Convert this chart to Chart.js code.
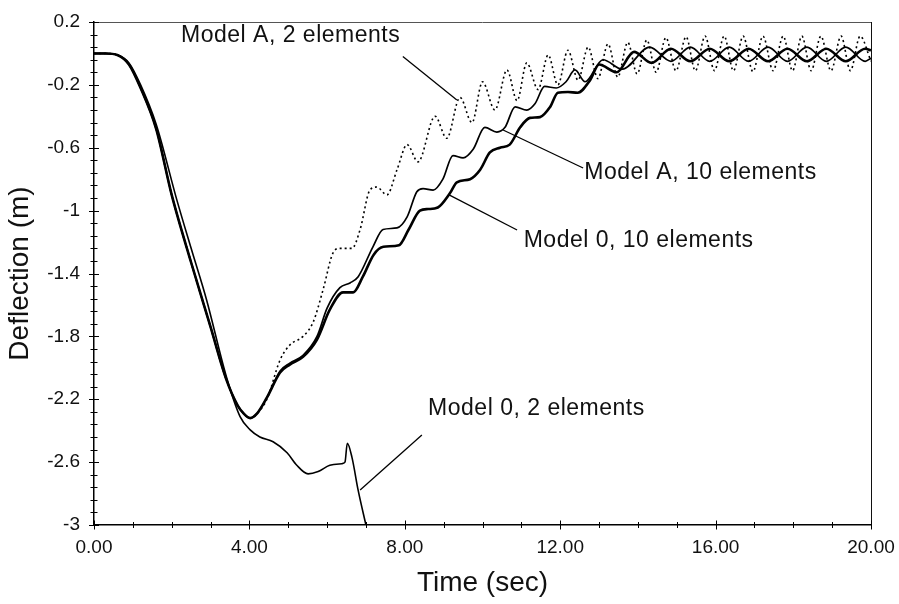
<!DOCTYPE html>
<html>
<head>
<meta charset="utf-8">
<script src="https://cdn.jsdelivr.net/npm/chart.js@4.4.1/dist/chart.umd.min.js"></script>
<style>
  body { margin: 0; background: #fff; }
  #wrap { width: 899px; height: 604px; }
</style>
</head>
<body>
<div id="wrap"><canvas id="deflection" width="899" height="604"></canvas></div>
<script>
// axis ticks
const xMajorTicks = [0, 4, 8, 12, 16, 20];
const xTickLabels = ['0.00', '4.00', '8.00', '12.00', '16.00', '20.00'];
const yMajorTicks = [0.2, -0.2, -0.6, -1, -1.4, -1.8, -2.2, -2.6, -3];
const yTickLabels = ['0.2', '-0.2', '-0.6', '-1', '-1.4', '-1.8', '-2.2', '-2.6', '-3'];

// Model A, 2 elements (dotted)
const modelA2Time = [0, 0.3, 0.6, 0.9, 1.2, 1.6, 2.0, 2.5, 3.0, 3.4, 3.7, 3.85, 4.02, 4.2, 4.45,
  4.79, 5.04, 5.38, 5.64, 5.9, 6.15, 6.33, 6.64, 6.85, 7.1, 7.28, 7.54, 7.8, 8.06, 8.34,
  8.78, 9.08, 9.42, 9.73, 10.0, 10.32, 10.63, 10.89, 11.14, 11.43, 11.69, 11.94, 12.2, 12.46,
  12.72, 12.97, 13.23, 13.48, 13.74, 13.98, 14.23, 14.47, 14.72, 14.98, 15.24, 15.48, 15.73,
  15.97, 16.22, 16.46, 16.71, 16.96, 17.22, 17.48, 17.74, 17.98, 18.22, 18.46, 18.71, 18.97,
  19.23, 19.47, 19.72, 20.0];
const modelA2Defl = [0, 0, -0.01, -0.07, -0.22, -0.48, -0.9, -1.33, -1.74, -2.07, -2.24, -2.29, -2.32, -2.29, -2.2,
  -1.95, -1.855, -1.8, -1.71, -1.5, -1.27, -1.24, -1.24, -1.12, -0.87, -0.85, -0.9, -0.74, -0.58, -0.69,
  -0.40, -0.54, -0.28, -0.44, -0.18, -0.36, -0.105, -0.30, -0.06, -0.23, -0.01, -0.20, 0.02, -0.17,
  0.04, -0.16, 0.06, -0.15, 0.07, -0.13, 0.085, -0.12, 0.1, -0.11, 0.105, -0.11, 0.11,
  -0.11, 0.11, -0.11, 0.11, -0.115, 0.11, -0.11, 0.11, -0.11, 0.11, -0.11, 0.11, -0.11,
  0.11, -0.11, 0.11, -0.05];

// Model A, 10 elements (thin solid)
const modelA10Time = [0, 0.3, 0.6, 0.9, 1.2, 1.6, 2.0, 2.5, 3.0, 3.4, 3.7, 3.85, 4.02, 4.2, 4.45,
  4.79, 5.04, 5.38, 5.74, 6.0, 6.33, 6.59, 6.8, 7.18, 7.44, 7.8, 8.06, 8.31, 8.47, 8.73,
  8.98, 9.24, 9.5, 9.76, 10.06, 10.37, 10.58, 10.84, 11.14, 11.35, 11.6, 11.9, 12.15, 12.38,
  12.64, 13.1, 13.6, 14.3, 14.85, 15.35, 15.85, 16.35, 16.85, 17.35, 17.85, 18.35, 18.85,
  19.35, 19.85, 20.0];
const modelA10Defl = [0, 0, -0.01, -0.07, -0.22, -0.48, -0.9, -1.33, -1.74, -2.07, -2.24, -2.29, -2.32, -2.29, -2.19,
  -2.02, -1.97, -1.92, -1.80, -1.62, -1.49, -1.46, -1.42, -1.23, -1.12, -1.11, -1.04, -0.88, -0.86, -0.87,
  -0.80, -0.65, -0.665, -0.61, -0.47, -0.50, -0.47, -0.34, -0.36, -0.32, -0.21, -0.22, -0.18, -0.105,
  -0.18, -0.04, -0.10, 0.04, -0.05, 0.04, -0.05, 0.04, -0.05, 0.04, -0.05, 0.04, -0.05,
  0.04, -0.05, -0.03];

// Model 0, 10 elements (thick solid)
const model010Time = [0, 0.3, 0.6, 0.9, 1.2, 1.6, 2.0, 2.5, 3.0, 3.4, 3.7, 3.85, 4.02, 4.2, 4.45,
  4.79, 5.04, 5.38, 5.74, 6.07, 6.41, 6.67, 6.92, 7.2, 7.45, 7.85, 8.1, 8.39, 8.6, 8.85,
  9.16, 9.34, 9.68, 9.94, 10.19, 10.45, 10.7, 10.97, 11.22, 11.48, 11.74, 11.94, 12.2, 12.45,
  12.77, 13.0, 13.45, 13.9, 14.35, 14.85, 15.35, 15.85, 16.35, 16.85, 17.35, 17.85, 18.35,
  18.85, 19.35, 19.85, 20.0];
const model010Defl = [0, 0, -0.01, -0.07, -0.22, -0.48, -0.9, -1.33, -1.74, -2.07, -2.24, -2.29, -2.32, -2.29, -2.19,
  -2.03, -1.98, -1.93, -1.82, -1.63, -1.52, -1.52, -1.42, -1.28, -1.23, -1.22, -1.12, -1.0, -0.99, -0.98,
  -0.89, -0.82, -0.80, -0.74, -0.63, -0.60, -0.58, -0.47, -0.41, -0.405, -0.34, -0.25, -0.245, -0.25,
  -0.17, -0.07, -0.12, 0.01, -0.06, 0.03, -0.05, 0.03, -0.05, 0.03, -0.05, 0.03, -0.05,
  0.03, -0.05, 0.03, 0.02];

// Model 0, 2 elements (thin solid, diverges)
const model02Time = [0, 0.3, 0.6, 0.9, 1.2, 1.6, 2.13, 2.5, 2.9, 3.4, 3.76, 4.02, 4.27, 4.61,
  4.97, 5.22, 5.51, 5.77, 6.07, 6.38, 6.46, 6.52, 6.64, 6.8, 7.0];
const model02Defl = [0, 0, -0.01, -0.06, -0.2, -0.45, -0.93, -1.24, -1.57, -2.05, -2.31, -2.395, -2.44, -2.47,
  -2.54, -2.62, -2.675, -2.66, -2.62, -2.61, -2.6, -2.48, -2.57, -2.78, -3.0];

// callout labels: text position and pointer line, in data units
const callouts = [
  { text: 'Model A, 2 elements', at: [2.24, 0.11], from: [7.95, -0.02], to: [9.34, -0.296] },
  { text: 'Model A, 10 elements', at: [12.62, -0.76], from: [12.59, -0.729], to: [10.53, -0.487] },
  { text: 'Model 0, 10 elements', at: [11.06, -1.19], from: [10.89, -1.123], to: [9.14, -0.90] },
  { text: 'Model 0, 2 elements', at: [8.6, -2.26], from: [8.44, -2.427], to: [6.85, -2.777] },
];

const toPoints = (xs, ys) => xs.map((x, i) => ({ x: x, y: ys[i] }));

const fontFamily = '"Liberation Sans", Arial, sans-serif';

const axisDecor = {
  id: 'axisDecor',
  afterDatasetsDraw(chart) {
    const { ctx, chartArea, scales } = chart;
    const xs = scales.x;
    const ys = scales.y;
    ctx.save();

    // top and right frame
    ctx.strokeStyle = '#555';
    ctx.lineWidth = 1;
    ctx.beginPath();
    ctx.moveTo(chartArea.left, chartArea.top + 0.5);
    ctx.lineTo(chartArea.right, chartArea.top + 0.5);
    ctx.stroke();
    ctx.strokeStyle = '#111';
    ctx.beginPath();
    ctx.moveTo(chartArea.right + 0.5, chartArea.top);
    ctx.lineTo(chartArea.right + 0.5, chartArea.bottom);
    ctx.stroke();

    // crossing tick marks
    ctx.strokeStyle = '#000';
    ctx.lineWidth = 1;
    ctx.beginPath();
    for (let v = 0; v <= 20; v += 1) {
      const px = Math.round(xs.getPixelForValue(v)) + 0.5;
      const len = v % 4 === 0 ? 4.5 : 3;
      ctx.moveTo(px, chartArea.bottom - len);
      ctx.lineTo(px, chartArea.bottom + len);
    }
    for (let k = 0; k <= 40; k++) {
      const v = 0.2 - k * 0.08;
      const py = Math.round(ys.getPixelForValue(v)) + 0.5;
      const len = k % 5 === 0 ? 5 : 3.5;
      ctx.moveTo(chartArea.left - len, py);
      ctx.lineTo(chartArea.left + len, py);
    }
    ctx.stroke();

    // callouts
    ctx.font = '23px ' + fontFamily;
    if ('letterSpacing' in ctx) ctx.letterSpacing = '0.5px';
    ctx.fillStyle = '#111';
    ctx.textAlign = 'left';
    ctx.textBaseline = 'middle';
    ctx.lineWidth = 1.3;
    callouts.forEach((c) => {
      ctx.fillText(c.text, xs.getPixelForValue(c.at[0]), ys.getPixelForValue(c.at[1]));
      ctx.beginPath();
      ctx.moveTo(xs.getPixelForValue(c.from[0]), ys.getPixelForValue(c.from[1]));
      ctx.lineTo(xs.getPixelForValue(c.to[0]), ys.getPixelForValue(c.to[1]));
      ctx.stroke();
    });
    ctx.restore();
  },
};

const lineBase = {
  borderColor: '#000',
  pointRadius: 0,
  fill: false,
  cubicInterpolationMode: 'monotone',
};

new Chart(document.getElementById('deflection').getContext('2d'), {
  type: 'line',
  data: {
    datasets: [
      { ...lineBase, label: 'Model A, 2 elements', data: toPoints(modelA2Time, modelA2Defl), borderWidth: 1.6, borderDash: [2, 3] },
      { ...lineBase, label: 'Model 0, 2 elements', data: toPoints(model02Time, model02Defl), borderWidth: 1.6 },
      { ...lineBase, label: 'Model A, 10 elements', data: toPoints(modelA10Time, modelA10Defl), borderWidth: 1.7 },
      { ...lineBase, label: 'Model 0, 10 elements', data: toPoints(model010Time, model010Defl), borderWidth: 2.6 },
    ],
  },
  options: {
    responsive: false,
    animation: false,
    layout: { padding: { top: 22, right: 28, left: 0, bottom: 0 } },
    plugins: {
      legend: { display: false },
      tooltip: { enabled: false },
    },
    scales: {
      x: {
        type: 'linear',
        min: 0,
        max: 20,
        grid: { display: false, drawTicks: false },
        border: { color: '#000', width: 1.5 },
        afterBuildTicks: (s) => { s.ticks = xMajorTicks.map((v) => ({ value: v })); },
        afterFit: (s) => { s.height = 79; s.paddingLeft = 0; s.paddingRight = 0; },
        ticks: {
          callback: (v, i) => xTickLabels[i],
          font: { family: fontFamily, size: 19 },
          color: '#111',
          padding: 11,
          maxRotation: 0,
          autoSkip: false,
        },
        title: {
          display: true,
          text: 'Time (sec)',
          font: { family: fontFamily, size: 28 },
          color: '#111',
          padding: { top: 0, bottom: 4 },
        },
      },
      y: {
        type: 'linear',
        min: -3,
        max: 0.2,
        grid: { display: false, drawTicks: false },
        border: { color: '#000', width: 1.5 },
        afterBuildTicks: (s) => { s.ticks = yMajorTicks.map((v) => ({ value: v })); },
        afterFit: (s) => { s.width = 94; s.paddingTop = 0; s.paddingBottom = 0; },
        ticks: {
          callback: (v, i) => yTickLabels[i],
          font: { family: fontFamily, size: 19 },
          color: '#111',
          padding: 14,
          autoSkip: false,
        },
        title: {
          display: true,
          text: 'Deflection (m)',
          font: { family: fontFamily, size: 28 },
          color: '#111',
          padding: { top: 3, bottom: 0 },
        },
      },
    },
  },
  plugins: [axisDecor],
});
</script>
</body>
</html>
